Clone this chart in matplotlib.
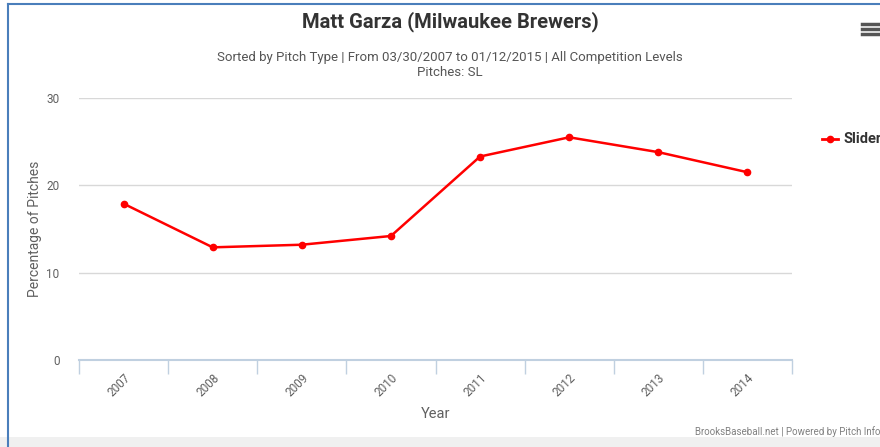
import matplotlib
matplotlib.use("Agg")
from matplotlib import pyplot as plt
from matplotlib.lines import Line2D
from matplotlib.patches import Rectangle

plt.rcParams['font.family'] = ['Roboto', 'DejaVu Sans']

years = ['2007', '2008', '2009', '2010', '2011', '2012', '2013', '2014']
slider_pct = [17.9, 12.9, 13.2, 14.2, 23.3, 25.5, 23.8, 21.5]
y_ticks = [0, 10, 20, 30]

fig = plt.figure(figsize=(8.8, 4.47), dpi=100)
W, H = 880, 447

# outer frame (blue border left/top, grey strip at bottom)
fig.add_artist(Line2D([8 / W, 8 / W], [0, 1 - 4 / H], color='#4a7ebb', lw=1.5))
fig.add_artist(Line2D([8 / W, 1], [1 - 4 / H, 1 - 4 / H], color='#4a7ebb', lw=1.5))
fig.add_artist(Rectangle((0, 0), 1, 10 / H, color='#f0f0f0', lw=0))

ax = fig.add_axes([79 / W, 1 - 360 / H, (792 - 79) / W, (360 - 98) / H])
x = list(range(len(years)))
ax.plot(x, slider_pct, color='#ff0000', lw=1.8, marker='o', ms=4.5, clip_on=False)
ax.set_xlim(-0.5, len(years) - 0.5)
ax.set_ylim(0, 30)

ax.set_yticks(y_ticks)
ax.set_yticklabels([str(v) for v in y_ticks], color='#606060', fontsize=8.5)
ax.tick_params(axis='y', length=0, pad=14)
ax.grid(axis='y', color='#d8d8d8', lw=1)

ax.set_xticks([i - 0.5 for i in range(len(years) + 1)], minor=False)
ax.set_xticklabels([''] * (len(years) + 1))
ax.set_xticks(x, minor=True)
ax.set_xticklabels(years, minor=True, rotation=45, ha='right', va='top',
                   rotation_mode='anchor', color='#606060', fontsize=8.5)
ax.tick_params(axis='x', which='major', length=10, color='#c0d0e0', width=1)
ax.tick_params(axis='x', which='minor', length=0, pad=8)

for s in ['top', 'right', 'left']:
    ax.spines[s].set_visible(False)
ax.spines['bottom'].set_color('#c0d0e0')
ax.spines['bottom'].set_linewidth(1.5)
ax.set_axisbelow(True)

ax.set_ylabel('Percentage of Pitches', color='#606060', fontsize=10)
ax.yaxis.set_label_coords(-0.052, 0.5)
ax.set_xlabel('Year', color='#606060', fontsize=10.5, labelpad=6)

fig.text(450 / W, 1 - 22 / H, 'Matt Garza (Milwaukee Brewers)', ha='center', va='center',
         fontsize=14.5, fontweight='bold', color='#333333')
fig.text(450 / W, 1 - 57 / H, 'Sorted by Pitch Type | From 03/30/2007 to 01/12/2015 | All Competition Levels',
         ha='center', va='center', fontsize=9.5, color='#555555')
fig.text(450 / W, 1 - 73 / H, 'Pitches: SL', ha='center', va='center', fontsize=9.5, color='#555555')

# legend
fig.add_artist(Line2D([822 / W, 838 / W], [1 - 139 / H] * 2, color='#ff0000', lw=2))
fig.add_artist(Line2D([830 / W], [1 - 139 / H], color='#ff0000', marker='o', ms=4.5))
fig.text(843 / W, 1 - 139 / H, 'Slider', ha='left', va='center', fontsize=10.5,
         fontweight='bold', color='#333333')

# menu icon
for yy in [24, 29, 34]:
    fig.add_artist(Line2D([862 / W, 878 / W], [1 - yy / H] * 2, color='#555555', lw=2.5))

fig.text(880 / W, 1 - 432 / H, 'BrooksBaseball.net | Powered by Pitch Info', ha='right',
         va='center', fontsize=7, color='#808080')

fig.savefig('out.png', dpi=100)
